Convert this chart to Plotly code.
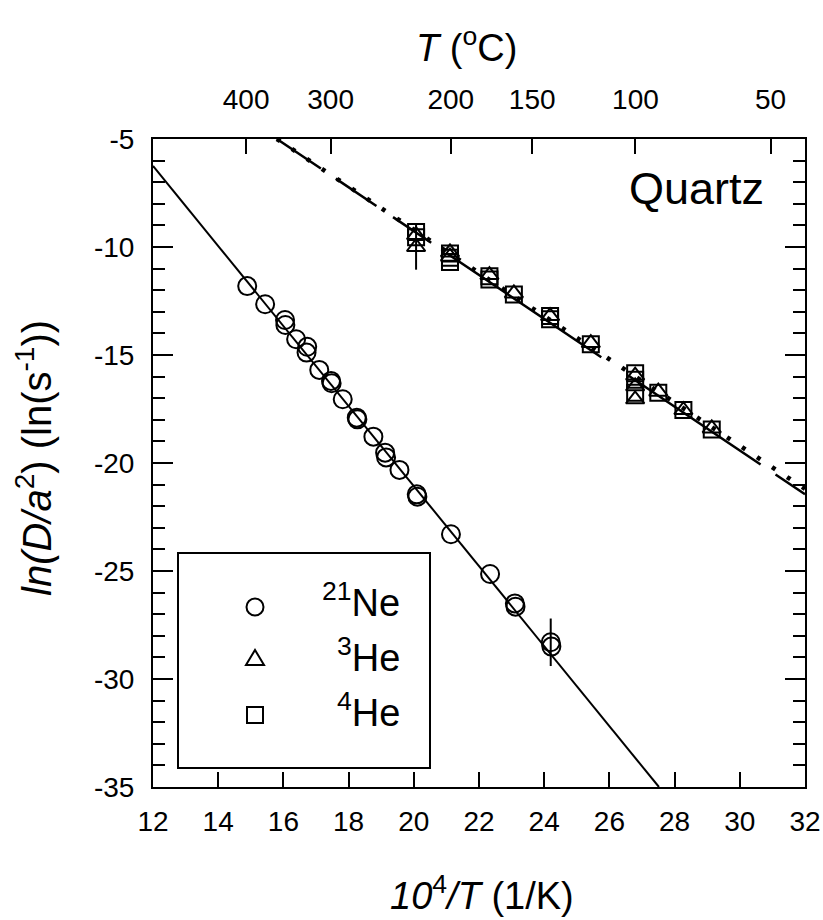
import plotly.graph_objects as go

# ---------------- data ----------------
# 21Ne (circles)
ne_x = [14.89, 15.44, 16.05, 16.06, 16.39, 16.73, 16.71, 17.10, 17.46, 17.48,
        17.82, 18.25, 18.27, 18.76, 19.12, 19.15, 19.56, 20.09, 20.11, 21.14,
        22.34, 23.10, 23.12, 24.20, 24.22]
ne_y = [-11.81, -12.65, -13.38, -13.61, -14.27, -14.62, -14.89, -15.69, -16.20, -16.31,
        -17.05, -17.90, -17.98, -18.78, -19.52, -19.74, -20.32, -21.45, -21.56, -23.30,
        -25.14, -26.50, -26.65, -28.30, -28.50]
ne_err = [0] * 23 + [1.1, 0]

# 3He (triangles)
he3_x = [20.07, 20.07, 21.11, 21.11, 22.32, 23.07, 24.18, 25.43, 26.79, 26.79, 26.79, 27.50, 28.27, 29.14]
he3_y = [-9.45, -10.0, -10.25, -10.45, -11.30, -12.15, -13.20, -14.45, -15.95, -16.45, -17.05, -16.70, -17.55, -18.40]
he3_err = [0, 1.05] + [0] * 12

# 4He (squares)
he4_x = [20.07, 20.07, 21.11, 21.11, 21.11, 22.32, 22.32, 23.07, 24.18, 24.18, 25.43,
         26.79, 26.79, 26.79, 27.50, 28.27, 29.14]
he4_y = [-9.30, -9.55, -10.30, -10.50, -10.70, -11.35, -11.50, -12.20, -13.20, -13.35, -14.50,
         -15.85, -16.15, -16.75, -16.75, -17.55, -18.45]

# fit lines (end points)
ne_fit_x = [12.0, 27.52]
ne_fit_y = [-6.25, -35.0]
he_dash_x = [15.8, 32.0]
he_dash_y = [-5.0, -21.45]
he_dot_x = [15.8, 32.0]
he_dot_y = [-5.0, -21.2]

# axes
x_ticks = [12, 14, 16, 18, 20, 22, 24, 26, 28, 30, 32]
y_ticks = [-35, -30, -25, -20, -15, -10, -5]
top_T_C = [400, 300, 200, 150, 100, 50]

FONT = "Liberation Sans, Arial, Helvetica, sans-serif"
TICK_FS = 28

fig = go.Figure()

fig.add_trace(go.Scatter(x=ne_fit_x, y=ne_fit_y, mode="lines",
                         line=dict(color="black", width=2), showlegend=False))
fig.add_trace(go.Scatter(x=he_dash_x, y=he_dash_y, mode="lines",
                         line=dict(color="black", width=2.5,
                                   dash="53px,18px,49px,20px,46px,20px,185px,33px,159px,18px,60px"),
                         showlegend=False))
fig.add_trace(go.Scatter(x=he_dot_x, y=he_dot_y, mode="lines",
                         line=dict(color="black", width=4.5, dash="4px,14px"),
                         showlegend=False))

fig.add_trace(go.Scatter(x=ne_x, y=ne_y, mode="markers",
                         marker=dict(symbol="circle-open", size=18, color="black",
                                     line=dict(width=2, color="black")),
                         error_y=dict(type="data", array=ne_err, visible=True,
                                      thickness=2, width=0, color="black"),
                         showlegend=False))
fig.add_trace(go.Scatter(x=he3_x, y=he3_y, mode="markers",
                         marker=dict(symbol="triangle-up-open", size=16, color="black",
                                     line=dict(width=2, color="black")),
                         error_y=dict(type="data", array=he3_err, visible=True,
                                      thickness=2, width=0, color="black"),
                         showlegend=False))
fig.add_trace(go.Scatter(x=he4_x, y=he4_y, mode="markers",
                         marker=dict(symbol="square-open", size=16, color="black",
                                     line=dict(width=2, color="black")),
                         showlegend=False))
# dummy trace on overlay axes so they are drawn
fig.add_trace(go.Scatter(x=[None], y=[None], xaxis="x2", yaxis="y2",
                         mode="markers", showlegend=False, hoverinfo="skip"))

top_vals = [1e4 / (t + 273.15) for t in top_T_C]

tickfont = dict(family=FONT, size=TICK_FS, color="black")

fig.update_layout(
    template="none",
    width=823, height=920, autosize=False,
    margin=dict(l=153, r=18, t=139, b=133, pad=0),
    paper_bgcolor="white", plot_bgcolor="white",
    font=dict(family=FONT, color="black", size=TICK_FS),
    xaxis=dict(range=[12, 32], tickmode="array", tickvals=x_ticks,
               ticktext=[str(v) for v in x_ticks], automargin=False,
               ticks="inside", ticklen=15, tickwidth=2, tickcolor="black",
               showline=True, linewidth=2, linecolor="black", mirror=False,
               showgrid=False, zeroline=False, ticklabelstandoff=8,
               tickfont=tickfont),
    xaxis2=dict(range=[12, 32], overlaying="x", side="top", anchor="y",
                tickmode="array", tickvals=top_vals, automargin=False,
                ticktext=[str(t) for t in top_T_C],
                ticks="inside", ticklen=15, tickwidth=2, tickcolor="black",
                showline=True, linewidth=2, linecolor="black",
                showgrid=False, zeroline=False, ticklabelstandoff=17,
                tickfont=tickfont),
    yaxis=dict(range=[-35, -5], tickmode="array", tickvals=y_ticks,
               ticktext=[str(v) for v in y_ticks], automargin=False,
               ticks="inside", ticklen=20, tickwidth=2, tickcolor="black",
               minor=dict(tickmode="linear", tick0=-35, dtick=1, ticks="inside",
                          ticklen=12, tickwidth=2, tickcolor="black", showgrid=False),
               showline=True, linewidth=2, linecolor="black",
               showgrid=False, zeroline=False, ticklabelstandoff=11,
               tickfont=tickfont),
    yaxis2=dict(range=[-35, -5], overlaying="y", side="right", anchor="x",
                tickmode="array", tickvals=y_ticks, showticklabels=False, automargin=False,
                ticks="inside", ticklen=20, tickwidth=2, tickcolor="black",
                minor=dict(tickmode="linear", tick0=-35, dtick=1, ticks="inside",
                           ticklen=12, tickwidth=2, tickcolor="black", showgrid=False),
                showline=True, linewidth=2, linecolor="black",
                showgrid=False, zeroline=False),
    showlegend=False,
)

def px2paper_x(px):
    return (px - 153) / 652.0

def px2paper_y(py):
    return (787 - py) / 648.0

annotations = [
    dict(text="<i>T</i> (<sup>o</sup>C)", x=px2paper_x(466), y=px2paper_y(45),
         font=dict(size=38)),
    dict(text="<i>10</i><sup>4</sup><i>/T</i> (1/K)", x=px2paper_x(482), y=px2paper_y(893),
         font=dict(size=38)),
    dict(text="<i>ln(D/a</i><sup>2</sup>) (ln(s<sup>-1</sup>))", x=px2paper_x(34),
         y=px2paper_y(458), textangle=-90, font=dict(size=40)),
    dict(text="Quartz", x=px2paper_x(766), y=px2paper_y(188), xanchor="right",
         font=dict(size=45)),
    dict(text="<sup>21</sup>Ne", x=px2paper_x(402), y=px2paper_y(600), xanchor="right",
         font=dict(size=38)),
    dict(text="<sup>3</sup>He", x=px2paper_x(402), y=px2paper_y(655), xanchor="right",
         font=dict(size=38)),
    dict(text="<sup>4</sup>He", x=px2paper_x(402), y=px2paper_y(710), xanchor="right",
         font=dict(size=38)),
]
for a in annotations:
    a.setdefault("xanchor", "center")
    a.update(xref="paper", yref="paper", showarrow=False, yanchor="middle")
    a["font"] = dict(family=FONT, color="black", size=a["font"]["size"])
fig.update_layout(annotations=annotations)

# legend box and symbols
shapes = [
    dict(type="rect", xref="paper", yref="paper",
         x0=px2paper_x(178), x1=px2paper_x(430), y0=px2paper_y(768), y1=px2paper_y(553),
         line=dict(color="black", width=2), fillcolor="white", layer="above"),
    dict(type="circle", xref="paper", yref="paper", xsizemode="pixel", ysizemode="pixel",
         xanchor=px2paper_x(255), yanchor=px2paper_y(607),
         x0=-8.5, x1=8.5, y0=-8.5, y1=8.5, line=dict(color="black", width=2), layer="above"),
    dict(type="path", xref="paper", yref="paper", xsizemode="pixel", ysizemode="pixel",
         xanchor=px2paper_x(255), yanchor=px2paper_y(659),
         path="M -9 -6 L 9 -6 L 0 9 Z", line=dict(color="black", width=2), layer="above"),
    dict(type="rect", xref="paper", yref="paper", xsizemode="pixel", ysizemode="pixel",
         xanchor=px2paper_x(255), yanchor=px2paper_y(715),
         x0=-8, x1=8, y0=-8, y1=8, line=dict(color="black", width=2), layer="above"),
]
fig.update_layout(shapes=shapes)

fig.write_html("out.html")
